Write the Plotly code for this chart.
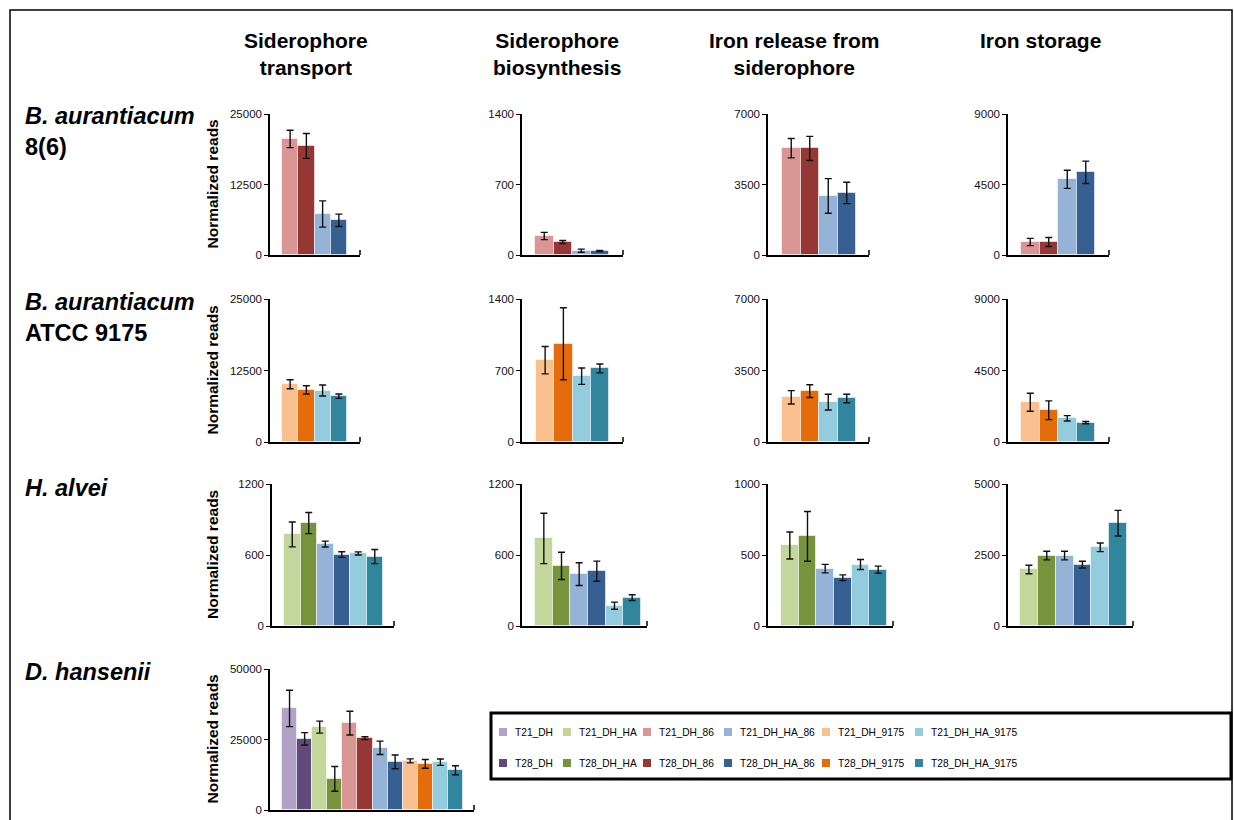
import plotly.graph_objects as go

W, H = 1234, 820

# ---------------- data ----------------
colors = {
    "T21_DH": "#B3A2C7", "T28_DH": "#604A7B",
    "T21_DH_HA": "#C3D69B", "T28_DH_HA": "#77933C",
    "T21_DH_86": "#D99694", "T28_DH_86": "#953735",
    "T21_DH_HA_86": "#95B3D7", "T28_DH_HA_86": "#376092",
    "T21_DH_9175": "#FAC090", "T28_DH_9175": "#E46C0A",
    "T21_DH_HA_9175": "#93CDDD", "T28_DH_HA_9175": "#31859C",
}

col_titles = ["Siderophore<br>transport", "Siderophore<br>biosynthesis",
              "Iron release from<br>siderophore", "Iron storage"]
row_titles = ["<i>B. aurantiacum</i><br>8(6)", "<i>B. aurantiacum</i><br>ATCC 9175",
              "<i>H. alvei</i>", "<i>D. hansenii</i>"]

groups_86 = ["T21_DH_86", "T28_DH_86", "T21_DH_HA_86", "T28_DH_HA_86"]
groups_9175 = ["T21_DH_9175", "T28_DH_9175", "T21_DH_HA_9175", "T28_DH_HA_9175"]
groups_ha = ["T21_DH_HA", "T28_DH_HA", "T21_DH_HA_86", "T28_DH_HA_86",
             "T21_DH_HA_9175", "T28_DH_HA_9175"]
groups_dh = ["T21_DH", "T28_DH", "T21_DH_HA", "T28_DH_HA", "T21_DH_86", "T28_DH_86",
             "T21_DH_HA_86", "T28_DH_HA_86", "T21_DH_9175", "T28_DH_9175",
             "T21_DH_HA_9175", "T28_DH_HA_9175"]

# B. aurantiacum 8(6)
b86_transport = [20570, 19330, 7270, 6150]
b86_transport_err = [1540, 2200, 2330, 1090]
b86_biosynth = [189, 129, 43, 40]
b86_biosynth_err = [36, 15, 15, 6]
b86_release = [5300, 5290, 2930, 3080]
b86_release_err = [480, 600, 860, 530]
b86_storage = [830, 830, 4830, 5280]
b86_storage_err = [234, 287, 575, 712]

# B. aurantiacum ATCC 9175
b9175_transport = [10100, 9110, 9000, 8000]
b9175_transport_err = [790, 730, 960, 380]
b9175_biosynth = [801, 962, 644, 720]
b9175_biosynth_err = [134, 353, 80, 43]
b9175_release = [2190, 2490, 1950, 2130]
b9175_release_err = [327, 310, 384, 205]
b9175_storage = [2500, 2000, 1490, 1220]
b9175_storage_err = [567, 589, 168, 74]

# H. alvei
ha_transport = [774, 870, 692, 604, 613, 587]
ha_transport_err = [105, 89, 25, 24, 13, 60]
ha_biosynth = [740, 508, 438, 463, 172, 240]
ha_biosynth_err = [213, 115, 96, 85, 30, 24]
ha_release = [567, 631, 404, 340, 433, 397]
ha_release_err = [95, 175, 30, 20, 35, 25]
ha_storage = [1990, 2480, 2480, 2160, 2770, 3620]
ha_storage_err = [150, 150, 150, 120, 150, 450]

# D. hansenii
dh_transport = [36020, 25240, 29380, 11020, 30810, 25470, 22040, 17060, 17420, 16350, 16940, 14100]
dh_transport_err = [6450, 2190, 2130, 4380, 4200, 530, 2370, 2430, 710, 1540, 1130, 1600]

y_max = [[25000, 1400, 7000, 9000],
         [25000, 1400, 7000, 9000],
         [1200, 1200, 1000, 5000],
         [50000]]

panels = [
    # row, col, groups, values, errors
    (0, 0, groups_86, b86_transport, b86_transport_err),
    (0, 1, groups_86, b86_biosynth, b86_biosynth_err),
    (0, 2, groups_86, b86_release, b86_release_err),
    (0, 3, groups_86, b86_storage, b86_storage_err),
    (1, 0, groups_9175, b9175_transport, b9175_transport_err),
    (1, 1, groups_9175, b9175_biosynth, b9175_biosynth_err),
    (1, 2, groups_9175, b9175_release, b9175_release_err),
    (1, 3, groups_9175, b9175_storage, b9175_storage_err),
    (2, 0, groups_ha, ha_transport, ha_transport_err),
    (2, 1, groups_ha, ha_biosynth, ha_biosynth_err),
    (2, 2, groups_ha, ha_release, ha_release_err),
    (2, 3, groups_ha, ha_storage, ha_storage_err),
    (3, 0, groups_dh, dh_transport, dh_transport_err),
]

# ---------------- layout geometry (pixels) ----------------
# axis-left, axis-right, first-bar-left, last-bar-right
col_geom = {
    (0, 0): (270, 360, 282, 347), (0, 1): (522, 623, 535, 609),
    (0, 2): (768, 869, 782, 856), (0, 3): (1008, 1109, 1021, 1095),
    (1, 0): (270, 360, 282, 347), (1, 1): (522, 623, 536, 609),
    (1, 2): (768, 869, 782, 856), (1, 3): (1008, 1109, 1021, 1095),
    (2, 0): (272, 394, 284, 383), (2, 1): (522, 647, 535, 641),
    (2, 2): (768, 893, 781, 887), (2, 3): (1008, 1133, 1020, 1127),
    (3, 0): (270, 474, 282, 463),
}
row_geom = [(255, 114), (442, 299), (626, 484), (810, 669)]  # zero-line y, top y

FONT = "Liberation Sans, Arial, Helvetica, sans-serif"


def px(x):
    return x / W


def py(y):
    return 1 - y / H


fig = go.Figure()
layout = dict()
shapes = []
for i, (r, c, groups, vals, errs) in enumerate(panels, start=1):
    L, R, B0, B1 = col_geom[(r, c)]
    y0, y1 = row_geom[r]
    n = len(groups)
    unit = (B1 - B0) / n
    lo = -0.5 - (B0 - L) / unit
    hi = n - 0.5 + (R - B1) / unit
    xa = "x" if i == 1 else f"x{i}"
    ya = "y" if i == 1 else f"y{i}"
    fig.add_trace(go.Bar(
        x=groups, y=vals, xaxis=xa, yaxis=ya,
        marker=dict(color=[colors[g] for g in groups],
                    line=dict(color="rgba(255,255,255,0.55)", width=1)),
        error_y=dict(type="data", array=errs, visible=True,
                     color="#111111", thickness=1.4, width=3.5),
        showlegend=False, hoverinfo="x+y",
    ))
    ym = y_max[r][c]
    layout["xaxis" if i == 1 else f"xaxis{i}"] = dict(
        domain=[px(L), px(R)], anchor=ya, type="category",
        range=[lo, hi], showline=True, linecolor="#000", linewidth=1.5,
        showgrid=False, zeroline=False, showticklabels=False, ticks="",
        fixedrange=True, automargin=False,
    )
    layout["yaxis" if i == 1 else f"yaxis{i}"] = dict(
        domain=[py(y0), py(y1)], anchor=xa, range=[0, ym],
        tickvals=[0, ym / 2, ym], ticktext=[f"{int(v)}" for v in (0, ym / 2, ym)],
        showline=True, linecolor="#000", linewidth=1.5,
        ticks="outside", ticklen=4, tickwidth=1, tickcolor="#000",
        showgrid=False, zeroline=False,
        tickfont=dict(family=FONT, size=11.5, color="#111"),
        fixedrange=True, automargin=False,
    )
    # small end tick on the category axis (axis decoration)
    shapes.append(dict(type="line", xref=f"{xa} domain", yref=f"{ya} domain",
                       x0=1, x1=1, y0=0, y1=5 / (y0 - y1),
                       line=dict(color="#000", width=1.5)))

annotations = []
# column titles
col_centers = [306, 557, 794, 1040]
for t, xc in zip(col_titles, col_centers):
    annotations.append(dict(
        x=px(xc), y=py(27), xref="paper", yref="paper", xanchor="center", yanchor="top",
        text=f"<b>{t}</b>", showarrow=False, align="center",
        font=dict(family=FONT, size=21, color="#000"),
    ))
# row titles
row_tops = [101, 287, 473, 657]
for t, yt in zip(row_titles, row_tops):
    annotations.append(dict(
        x=px(23), y=py(yt), xref="paper", yref="paper", xanchor="left", yanchor="top",
        text=f"<b>{t}</b>", showarrow=False, align="left",
        font=dict(family=FONT, size=23.5, color="#000"),
    ))
# y-axis titles
for (y0, y1) in row_geom:
    annotations.append(dict(
        x=px(212), y=py((y0 + y1) / 2), xref="paper", yref="paper",
        xanchor="center", yanchor="middle", textangle=-90,
        text="<b>Normalized reads</b>", showarrow=False,
        font=dict(family=FONT, size=15.5, color="#000"),
    ))

# outer frame
shapes.append(dict(type="rect", xref="paper", yref="paper",
                   x0=px(10), x1=px(1232), y0=py(840), y1=py(10),
                   line=dict(color="#000", width=1.5)))
# legend box
shapes.append(dict(type="rect", xref="paper", yref="paper",
                   x0=px(491), x1=px(1231), y0=py(779), y1=py(713),
                   line=dict(color="#000", width=3)))
legend_rows = [["T21_DH", "T21_DH_HA", "T21_DH_86", "T21_DH_HA_86", "T21_DH_9175", "T21_DH_HA_9175"],
               ["T28_DH", "T28_DH_HA", "T28_DH_86", "T28_DH_HA_86", "T28_DH_9175", "T28_DH_HA_9175"]]
leg_sq_x = [503, 567, 647, 728, 826, 919]
leg_row_y = [732, 763]
for names, yc in zip(legend_rows, leg_row_y):
    for name, xc in zip(names, leg_sq_x):
        shapes.append(dict(type="rect", xref="paper", yref="paper",
                           x0=px(xc - 4), x1=px(xc + 4), y0=py(yc + 4), y1=py(yc - 4),
                           fillcolor=colors[name], line=dict(width=0)))
        annotations.append(dict(
            x=px(xc + 10), y=py(yc), xref="paper", yref="paper",
            xanchor="left", yanchor="middle", text=name, showarrow=False,
            font=dict(family=FONT, size=10.2, color="#000"),
        ))

fig.update_layout(
    width=W, height=H,
    margin=dict(l=0, r=0, t=0, b=0, pad=0, autoexpand=False),
    paper_bgcolor="white", plot_bgcolor="white",
    bargap=0, showlegend=False,
    annotations=annotations, shapes=shapes,
    **layout,
)

fig.write_html("out.html", config={"displayModeBar": False},
               post_script="document.body.style.margin='0';document.body.style.overflow='hidden';")
